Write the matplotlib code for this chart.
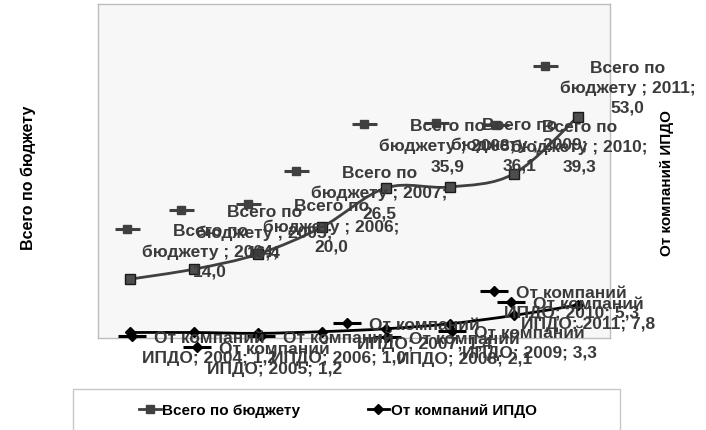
import numpy as np
import matplotlib.pyplot as plt
from matplotlib.path import Path
from matplotlib.patches import PathPatch, Rectangle
from matplotlib.lines import Line2D
from matplotlib.transforms import offset_copy

plt.rcParams['font.family'] = ['Liberation Sans', 'DejaVu Sans']

# данные
years = [2004, 2005, 2006, 2007, 2008, 2009, 2010, 2011]
budget = [14.0, 16.4, 20.0, 26.5, 35.9, 36.1, 39.3, 53.0]
ipdo = [1.2, 1.2, 1.0, 1.4, 2.1, 3.3, 5.3, 7.8]
budget_name = 'Всего по бюджету'
ipdo_name = 'От компаний ИПДО'

# смещения ключей подписей (пиксели, вниз положительно)
budget_key_off = [(-3, -50), (-13, -59), (-10, -50), (-26, -56),
                  (-22, -64), (-14, -64), (-18, -49), (-33, -51)]
ipdo_key_off = [(2, 4), (3, 15), (3, 3), (25, -9),
                (1, 8), (2, 7), (-20, -24), (-67, -3)]

GRAY = '#404040'
TXT = '#3a3a3a'


def fmt(v):
    return f'{v:.1f}'.replace('.', ',')


def smooth_path(xs, ys):
    """Сглаженная линия (как в Excel) через кривые Безье"""
    pts = np.column_stack([xs, ys]).astype(float)
    n = len(pts)
    verts = [pts[0]]
    codes = [Path.MOVETO]
    for i in range(n - 1):
        p0 = pts[i - 1] if i > 0 else pts[i]
        p1 = pts[i]
        p2 = pts[i + 1]
        p3 = pts[i + 2] if i + 2 < n else pts[i + 1]
        c1 = p1 + (p2 - p0) / 6.0
        c2 = p2 - (p3 - p1) / 6.0
        verts += [c1, c2, p2]
        codes += [Path.CURVE4] * 3
    return Path(verts, codes)


def draw_labels(ax, fig, xs, vals, offs, texts, marker, color, msize, gap, ms_line):
    for x, v, (dx, dy), t in zip(xs, vals, offs, texts):
        tr = offset_copy(ax.transData, fig=fig, x=dx, y=-dy, units='dots')
        ax.plot([x], [v], marker='_', markersize=ms_line, markeredgewidth=2.2,
                color=color, transform=tr, clip_on=False, zorder=6)
        ax.plot([x], [v], marker=marker, markersize=msize, color=color,
                markeredgecolor=color, transform=tr, clip_on=False, zorder=6)
        ax.annotate(t, xy=(x, v), xytext=(dx + gap, -dy + 6),
                    textcoords='offset pixels', ha='left', va='top',
                    multialignment='center', fontsize=12.5, fontweight='bold',
                    color=TXT, linespacing=1.4, annotation_clip=False, zorder=7)


fig = plt.figure(figsize=(7.06, 4.31), dpi=100)
ax = fig.add_axes([98 / 706, 1 - 338.5 / 431, 512 / 706, 333.5 / 431])
ax.set_facecolor('#f7f7f7')
for s in ax.spines.values():
    s.set_color('#bdbdbd')
    s.set_linewidth(1)
ax2 = ax.twinx()
for s in ax2.spines.values():
    s.set_visible(False)

xs = np.arange(len(years))
for a in (ax, ax2):
    a.set_xlim(-0.5, len(years) - 0.5)
    a.set_ylim(0, 80)
    a.set_xticks([])
    a.set_yticks([])

# Всего по бюджету
ax.add_patch(PathPatch(smooth_path(xs, budget), facecolor='none',
                       edgecolor=GRAY, linewidth=2, zorder=3))
ax.plot(xs, budget, linestyle='none', marker='s', markersize=7,
        markerfacecolor='#4d4d4d', markeredgecolor='#1a1a1a', zorder=4)

# От компаний ИПДО
ax2.add_patch(PathPatch(smooth_path(xs, ipdo), facecolor='none',
                        edgecolor='black', linewidth=2, zorder=3))
ax2.plot(xs, ipdo, linestyle='none', marker='D', markersize=5.5,
         color='black', zorder=4)

budget_texts = [f'Всего по\nбюджету ; {y};\n{fmt(v)}' for y, v in zip(years, budget)]
ipdo_texts = [f'От компаний\nИПДО; {y}; {fmt(v)}' for y, v in zip(years, ipdo)]

draw_labels(ax, fig, xs, budget, budget_key_off, budget_texts, 's', GRAY, 6, 15, 18)
draw_labels(ax2, fig, xs, ipdo, ipdo_key_off, ipdo_texts, 'D', 'black', 5, 10, 20)

fig.text(28 / 706, 1 - 178 / 431, budget_name, rotation=90, ha='center',
         va='center', fontsize=11.5, fontweight='bold')
fig.text(667 / 706, 1 - 183 / 431, ipdo_name, rotation=90, ha='center',
         va='center', fontsize=11, fontweight='bold')

# легенда
fig.patches.append(Rectangle((73 / 706, -0.05), (620 - 73) / 706, 0.05 + 1 - 390 / 431,
                             transform=fig.transFigure, facecolor='white',
                             edgecolor='#c8c8c8', linewidth=1))
handles = [
    Line2D([], [], color=GRAY, marker='s', markersize=6, linewidth=2),
    Line2D([], [], color='black', marker='D', markersize=5, linewidth=2),
]
fig.legend(handles, [budget_name, ipdo_name], loc='center',
           bbox_to_anchor=(338 / 706, 1 - 411 / 431), ncol=2, frameon=False,
           handlelength=1.4, handletextpad=0.1, columnspacing=4.4,
           prop={'size': 11, 'weight': 'bold'})

plt.savefig('out.png', dpi=100)
